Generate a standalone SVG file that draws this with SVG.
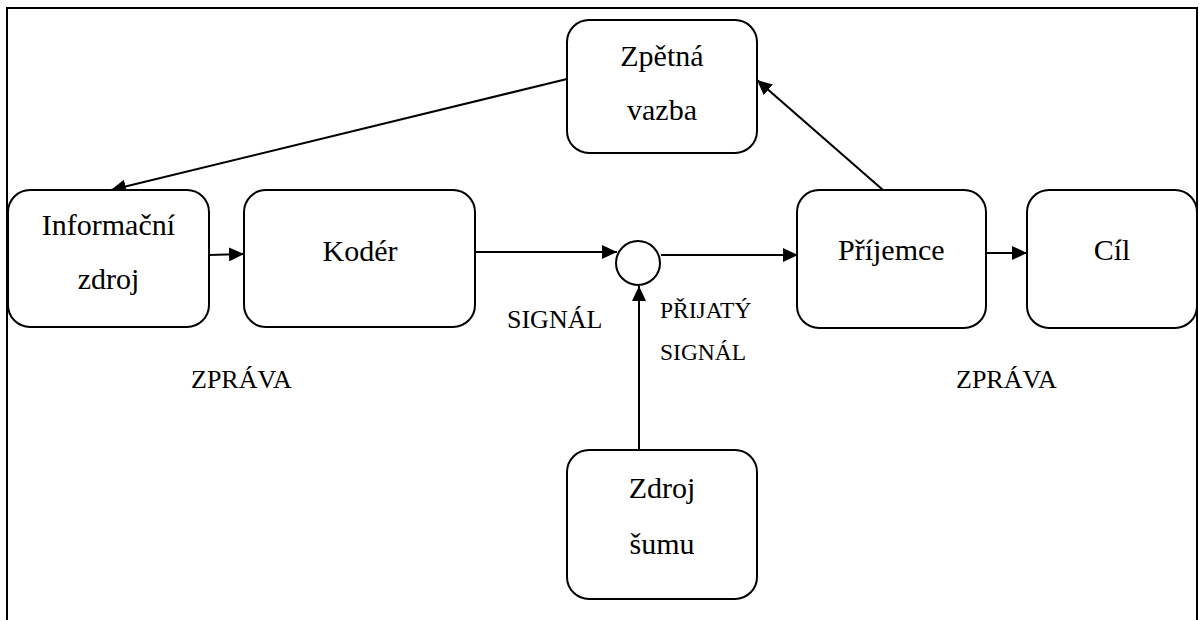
<svg xmlns="http://www.w3.org/2000/svg" width="1199" height="620" viewBox="0 0 1199 620">
<defs>
<marker id="arr" markerUnits="userSpaceOnUse" markerWidth="15" markerHeight="14" refX="15" refY="7" orient="auto">
<path d="M0,0 L15,7 L0,14 z" fill="#000"/>
</marker>
</defs>
<rect width="1199" height="620" fill="#fff"/>
<path d="M7,622 V8 H1197 V622" fill="none" stroke="#000" stroke-width="2"/>
<g id="connectors" fill="none" stroke="#000" stroke-width="2" marker-end="url(#arr)">
<line x1="209" y1="255" x2="244" y2="254"/>
<line x1="475" y1="252" x2="617" y2="252"/>
<line x1="661" y1="255" x2="798" y2="255"/>
<line x1="986" y1="253" x2="1027" y2="253"/>
<line x1="639" y1="450" x2="639" y2="286"/>
<line x1="883" y1="190" x2="757" y2="80"/>
<line x1="567" y1="79" x2="111" y2="190"/>
</g>
<g id="informacni-zdroj">
<rect x="8" y="190" width="201" height="137" rx="22" fill="#fff" stroke="#000" stroke-width="2"/>
<text x="41.8" y="235" font-size="30" font-family="Times New Roman, Liberation Serif, serif">Informační</text>
<text x="77.7" y="289" font-size="30" font-family="Times New Roman, Liberation Serif, serif">zdroj</text>
</g>
<g id="koder">
<rect x="244" y="190" width="231" height="137" rx="22" fill="#fff" stroke="#000" stroke-width="2"/>
<text x="322.5" y="261" font-size="30" font-family="Times New Roman, Liberation Serif, serif">Kodér</text>
</g>
<g id="soucet">
<circle cx="638" cy="263" r="22" fill="#fff" stroke="#000" stroke-width="2"/>
</g>
<g id="prijemce">
<rect x="797" y="190" width="189" height="138" rx="22" fill="#fff" stroke="#000" stroke-width="2"/>
<text x="838" y="260" font-size="30" font-family="Times New Roman, Liberation Serif, serif">Příjemce</text>
</g>
<g id="cil">
<rect x="1027" y="190" width="170" height="138" rx="22" fill="#fff" stroke="#000" stroke-width="2"/>
<text x="1093.7" y="260" font-size="30" font-family="Times New Roman, Liberation Serif, serif">Cíl</text>
</g>
<g id="zpetna-vazba">
<rect x="567" y="20" width="190" height="133" rx="22" fill="#fff" stroke="#000" stroke-width="2"/>
<text x="620.3" y="66" font-size="30" font-family="Times New Roman, Liberation Serif, serif">Zpětná</text>
<text x="627" y="120" font-size="30" font-family="Times New Roman, Liberation Serif, serif">vazba</text>
</g>
<g id="zdroj-sumu">
<rect x="567" y="450" width="190" height="149" rx="22" fill="#fff" stroke="#000" stroke-width="2"/>
<text x="628.7" y="498" font-size="30" font-family="Times New Roman, Liberation Serif, serif">Zdroj</text>
<text x="629.5" y="554" font-size="30" font-family="Times New Roman, Liberation Serif, serif">šumu</text>
</g>
<g id="labels">
<text x="507" y="328" font-size="26" font-family="Times New Roman, Liberation Serif, serif">SIGNÁL</text>
<text x="660" y="318" font-size="23.5" font-family="Times New Roman, Liberation Serif, serif">PŘIJATÝ</text>
<text x="660" y="360" font-size="23.5" font-family="Times New Roman, Liberation Serif, serif">SIGNÁL</text>
<text x="191" y="388" font-size="26" font-family="Times New Roman, Liberation Serif, serif">ZPRÁVA</text>
<text x="956" y="388" font-size="26" font-family="Times New Roman, Liberation Serif, serif">ZPRÁVA</text>
</g>
</svg>
